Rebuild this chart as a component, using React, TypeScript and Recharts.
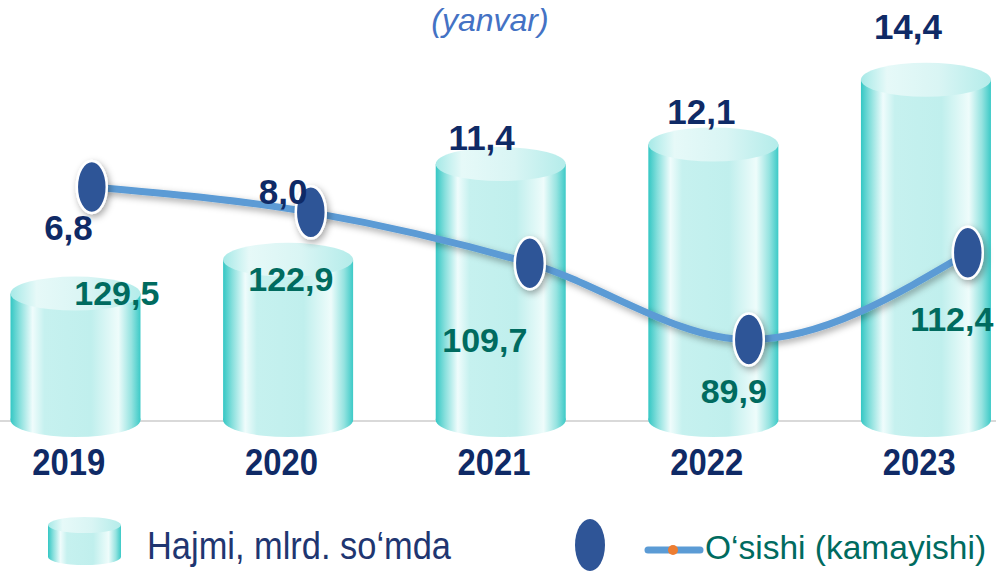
import React from "react";
import {
  ComposedChart,
  Bar,
  Line,
  XAxis,
  YAxis,
  CartesianGrid,
  LabelList,
} from "recharts";

const years = ["2019", "2020", "2021", "2022", "2023"];
const volume = [6.8, 8.0, 11.4, 12.1, 14.4];
const growth = [129.5, 122.9, 109.7, 89.9, 112.4];

const data = years.map((year, idx) => ({
  idx,
  year,
  volume: volume[idx],
  growth: growth[idx],
}));

const fmt = (v: number) => v.toFixed(1).replace(".", ",");

// hand placed label nudges (text only), like the original slide
const volumeLabelNudge = [
  [-7, -66],
  [-5, -68],
  [-19, -26],
  [-12, -32],
  [-18, -53],
];
const growthLabelNudge = [
  [25, 106],
  [-20, 67],
  [-45, 77],
  [-15, 51],
  [-16, 66],
];

const NAVY = "#0f2a66";
const TEAL = "#006b5f";

const Cylinder = (props: any) => {
  const { x, y, width, height } = props;
  if (width == null || height == null) return null;
  const cx = x + width / 2;
  const rx = width / 2;
  const ry = 17;
  return (
    <g>
      <ellipse cx={cx} cy={y + height} rx={rx} ry={ry} fill="url(#cylBody)" />
      <rect x={x} y={y} width={width} height={height} fill="url(#cylBody)" />
      <ellipse cx={cx} cy={y} rx={rx} ry={ry} fill="url(#cylTop)" />
    </g>
  );
};

const VolumeLabel = (props: any) => {
  const { x, y, width, index, value } = props;
  const [dx, dy] = volumeLabelNudge[index] || [0, -50];
  return (
    <text
      x={x + width / 2 + dx}
      y={y + dy + 12}
      textAnchor="middle"
      fontFamily="Arial, 'Liberation Sans', sans-serif"
      fontWeight="bold"
      fontSize={35}
      fill={NAVY}
    >
      {fmt(value)}
    </text>
  );
};

const GrowthLabel = (props: any) => {
  const { x, y, index, value } = props;
  const [dx, dy] = growthLabelNudge[index] || [0, 60];
  return (
    <text
      x={x + dx}
      y={y + dy + 12}
      textAnchor="middle"
      fontFamily="Arial, 'Liberation Sans', sans-serif"
      fontWeight="bold"
      fontSize={34}
      fill={TEAL}
    >
      {fmt(value)}
    </text>
  );
};

const GrowthDot = (props: any) => {
  const { cx, cy, index } = props;
  return (
    <ellipse
      key={`dot-${index}`}
      cx={cx}
      cy={cy}
      rx={15}
      ry={26}
      fill="#2f5597"
      stroke="#ffffff"
      strokeWidth={2.5}
      filter="url(#softShadow)"
    />
  );
};

const YearTick = (props: any) => {
  const { x, y, payload } = props;
  return (
    <text
      x={x - 7}
      y={y + 55}
      textAnchor="middle"
      fontFamily="Arial, 'Liberation Sans', sans-serif"
      fontWeight="bold"
      fontSize={36}
      textLength={73}
      lengthAdjust="spacingAndGlyphs"
      fill={NAVY}
    >
      {years[payload.value]}
    </text>
  );
};

export default function App() {
  return (
    <div
      style={{
        position: "absolute",
        left: 0,
        top: 0,
        width: 996,
        height: 571,
        background: "#ffffff",
        overflow: "hidden",
      }}
    >
      <ComposedChart
        width={996}
        height={571}
        data={data}
        margin={{ top: 20, right: 0, bottom: 101, left: 0 }}
      >
        <defs>
          <linearGradient id="cylBody" x1="0" y1="0" x2="1" y2="0">
            <stop offset="0%" stopColor="#34c7c4" />
            <stop offset="7%" stopColor="#86dfdc" />
            <stop offset="17%" stopColor="#effcfc" />
            <stop offset="26%" stopColor="#c6f1ef" />
            <stop offset="62%" stopColor="#c0efed" />
            <stop offset="83%" stopColor="#eefcfb" />
            <stop offset="93%" stopColor="#95e3e0" />
            <stop offset="100%" stopColor="#3ccac7" />
          </linearGradient>
          <linearGradient id="cylTop" x1="0" y1="0" x2="1" y2="0">
            <stop offset="0%" stopColor="#a6e9e7" />
            <stop offset="20%" stopColor="#e6f9f8" />
            <stop offset="60%" stopColor="#d9f5f4" />
            <stop offset="100%" stopColor="#b4ecea" />
          </linearGradient>
          <filter id="softShadow" x="-50%" y="-50%" width="200%" height="200%">
            <feDropShadow dx="2" dy="3" stdDeviation="3.5" floodColor="#000" floodOpacity="0.35" />
          </filter>
        </defs>
        <CartesianGrid
          vertical={false}
          horizontalPoints={[421]}
          stroke="#d9d9d9"
          strokeWidth={2}
        />
        <XAxis
          xAxisId="bar"
          dataKey="idx"
          type="number"
          domain={[-0.3565, 4.328]}
          ticks={[0, 1, 2, 3, 4]}
          axisLine={false}
          tickLine={false}
          tickSize={0}
          tickMargin={0}
          height={50}
          tick={<YearTick />}
          interval={0}
        />
        <XAxis
          xAxisId="line"
          dataKey="idx"
          type="number"
          domain={[-0.4192, 4.1288]}
          hide
        />
        <YAxis yAxisId="left" domain={[2.31, 16.52]} hide />
        <YAxis yAxisId="right" domain={[69.04, 172.8]} hide />
        <Bar
          xAxisId="bar"
          yAxisId="left"
          dataKey="volume"
          barSize={130}
          shape={<Cylinder />}
          isAnimationActive={false}
        >
          <LabelList dataKey="volume" content={<VolumeLabel />} />
        </Bar>
        <Line
          xAxisId="line"
          yAxisId="right"
          type="monotone"
          dataKey="growth"
          stroke="#5b9bd5"
          strokeWidth={7}
          filter="url(#softShadow)"
          dot={<GrowthDot />}
          activeDot={false}
          isAnimationActive={false}
        >
          <LabelList dataKey="growth" content={<GrowthLabel />} />
        </Line>
        <text
          x={490}
          y={31}
          textAnchor="middle"
          fontFamily="Arial, 'Liberation Sans', sans-serif"
          fontStyle="italic"
          fontSize={32}
          fill="#4472c4"
        >
          (yanvar)
        </text>
        <g>
          <ellipse cx={84.5} cy={557} rx={36.5} ry={8} fill="url(#cylBody)" />
          <rect x={48} y={525} width={73} height={32} fill="url(#cylBody)" />
          <ellipse cx={84.5} cy={525} rx={36.5} ry={8} fill="url(#cylTop)" />
          <text
            x={147}
            y={559}
            fontFamily="Arial, 'Liberation Sans', sans-serif"
            fontSize={38}
            textLength={304}
            lengthAdjust="spacingAndGlyphs"
            fill="#1f3671"
          >
            Hajmi, mlrd. so‘mda
          </text>
          <ellipse cx={590} cy={545} rx={15} ry={26} fill="#2f5597" />
          <line x1={648} y1={550} x2={700} y2={550} stroke="#5b9bd5" strokeWidth={7} strokeLinecap="round" />
          <circle cx={673} cy={550} r={5} fill="#ed7d31" />
          <text
            x={705}
            y={559}
            fontFamily="Arial, 'Liberation Sans', sans-serif"
            fontSize={33.5}
            fill={TEAL}
          >
            O‘sishi (kamayishi)
          </text>
        </g>
      </ComposedChart>
    </div>
  );
}
